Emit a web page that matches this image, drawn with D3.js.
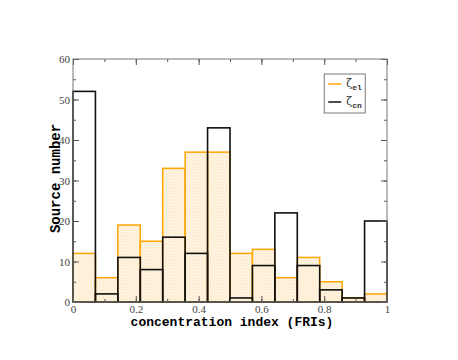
<!DOCTYPE html>
<html>
<head>
<meta charset="utf-8">
<script src="https://cdnjs.cloudflare.com/ajax/libs/d3/7.8.5/d3.min.js"></script>
<style>
  body { margin: 0; background: #fff; }
</style>
</head>
<body>
<div id="chart"></div>
<script>
// histogram bins (14 equal bins on [0,1])
var binCount = 14;
var elCounts = [12, 6, 19, 15, 33, 37, 37, 12, 13, 6, 11, 5, 1, 2];
var cnCounts = [52, 2, 11, 8, 16, 12, 43, 1, 9, 22, 9, 3, 1, 20];
var xTicks = [0, 0.2, 0.4, 0.6, 0.8, 1];
var yTicks = [0, 10, 20, 30, 40, 50, 60];

var W = 458, H = 360;
var margin = {top: 59, right: 71, bottom: 58, left: 73};
var width = W - margin.left - margin.right,
    height = H - margin.top - margin.bottom;

var svg = d3.select("#chart").append("svg")
  .attr("width", W).attr("height", H);

var defs = svg.append("defs");
var pat = defs.append("pattern")
  .attr("id", "hatch").attr("patternUnits", "userSpaceOnUse")
  .attr("width", 3).attr("height", 3);
pat.append("rect").attr("width", 3).attr("height", 3).attr("fill", "#fff8ec");
pat.append("path").attr("d", "M0,0L3,3M3,0L0,3")
  .attr("stroke", "#fde3bb").attr("stroke-width", 0.6);

var g = svg.append("g").attr("transform", "translate(" + margin.left + "," + margin.top + ")");

var x = d3.scaleLinear().domain([0, 1]).range([0, width]);
var y = d3.scaleLinear().domain([0, 60]).range([height, 0]);

var bins = d3.range(binCount).map(function(i) { return i / binCount; });
var bw = 1 / binCount;

// orange histogram
g.selectAll(".el").data(elCounts).enter().append("rect")
  .attr("x", function(d, i) { return x(bins[i]); })
  .attr("y", function(d) { return y(d); })
  .attr("width", x(bw) - x(0))
  .attr("height", function(d) { return y(0) - y(d); })
  .attr("fill", "url(#hatch)")
  .attr("stroke", "#ffa500").attr("stroke-width", 1.5);

// black histogram (outline only)
g.selectAll(".cn").data(cnCounts).enter().append("rect")
  .attr("x", function(d, i) { return x(bins[i]); })
  .attr("y", function(d) { return y(d); })
  .attr("width", x(bw) - x(0))
  .attr("height", function(d) { return y(0) - y(d); })
  .attr("fill", "none")
  .attr("stroke", "#111").attr("stroke-width", 1.6);

// axes with inward ticks, mirrored on the opposite sides
function styleAxis(sel) {
  sel.select(".domain").remove();
  sel.selectAll(".tick line").attr("stroke", "#555");
  sel.selectAll(".tick text").attr("fill", "#444")
    .style("font-family", "'Liberation Serif', 'DejaVu Serif', serif")
    .style("font-size", "11px");
}
var xMinor = d3.range(0, 1.001, 0.1);
var yMinor = d3.range(0, 60.1, 5);

g.append("g").attr("transform", "translate(0," + height + ")")
  .call(d3.axisBottom(x).tickValues(xMinor).tickSize(-3).tickFormat(""))
  .call(styleAxis);
g.append("g").attr("transform", "translate(0," + height + ")")
  .call(d3.axisBottom(x).tickValues(xTicks).tickSize(-6).tickPadding(3).tickFormat(d3.format("")))
  .call(styleAxis);
g.append("g")
  .call(d3.axisTop(x).tickValues(xMinor).tickSize(-3).tickFormat(""))
  .call(styleAxis);
g.append("g")
  .call(d3.axisTop(x).tickValues(xTicks).tickSize(-6).tickFormat(""))
  .call(styleAxis);

g.append("g")
  .call(d3.axisLeft(y).tickValues(yMinor).tickSize(-3).tickFormat(""))
  .call(styleAxis);
g.append("g")
  .call(d3.axisLeft(y).tickValues(yTicks).tickSize(-6).tickPadding(3))
  .call(styleAxis);
g.append("g").attr("transform", "translate(" + width + ",0)")
  .call(d3.axisRight(y).tickValues(yMinor).tickSize(-3).tickFormat(""))
  .call(styleAxis);
g.append("g").attr("transform", "translate(" + width + ",0)")
  .call(d3.axisRight(y).tickValues(yTicks).tickSize(-6).tickFormat(""))
  .call(styleAxis);

// frame
g.append("rect").attr("width", width).attr("height", height)
  .attr("fill", "none").attr("stroke", "#777").attr("stroke-width", 1);

// axis titles
g.append("text")
  .attr("x", width / 2 + 2).attr("y", height + 24)
  .attr("text-anchor", "middle")
  .style("font-family", "'Liberation Mono', monospace")
  .style("font-weight", "bold").style("font-size", "13px")
  .text("concentration index (FRIs)");
g.append("text")
  .attr("transform", "translate(-13," + (height / 2 - 2) + ") rotate(-90)")
  .attr("text-anchor", "middle")
  .style("font-family", "'Liberation Mono', monospace")
  .style("font-weight", "bold").style("font-size", "14px")
  .text("Source number");

// legend
var legItems = [{c: "#ffa500", sub: "el"}, {c: "#111", sub: "cn"}];
var leg = g.append("g").attr("transform", "translate(" + x(0.8) + "," + 15 + ")");
leg.append("rect").attr("width", 41).attr("height", 39)
  .attr("fill", "#fff").attr("stroke", "#555").attr("stroke-width", 0.8);
legItems.forEach(function(d, i) {
  var ly = 10 + i * 18;
  leg.append("line").attr("x1", 4).attr("x2", 17).attr("y1", ly).attr("y2", ly)
    .attr("stroke", d.c).attr("stroke-width", 1.5);
  var t = leg.append("text").attr("x", 22).attr("y", ly + 3)
    .style("font-family", "'DejaVu Serif', serif").style("font-size", "11px").attr("fill", "#333");
  t.append("tspan").text("ζ");
  t.append("tspan").attr("dy", 3).style("font-family", "'Liberation Mono', monospace")
    .style("font-weight", "bold").style("font-size", "8px").text(d.sub);
});
</script>
</body>
</html>
